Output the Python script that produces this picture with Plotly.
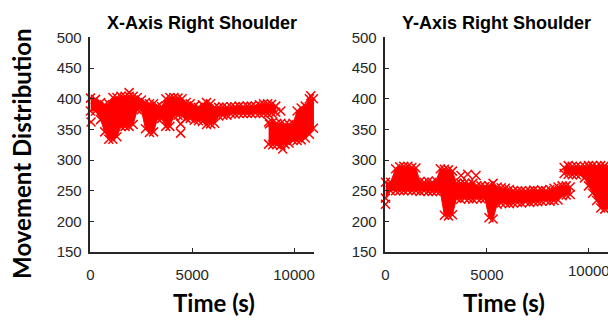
import plotly.graph_objects as go

W, H = 608, 325

# ---------------- data ----------------
# common time grid for the main bands (s)
t_main = [0, 250, 500, 700, 900, 1100, 1300, 1500, 1700, 1900, 2100, 2300, 2500, 2700,
          2900, 3100, 3300, 3500, 3700, 3900, 4100, 4300, 4500, 4700, 4900, 5100, 5300,
          5500, 5700, 5900, 6100, 6300, 6500, 6700, 6900, 7100, 7300, 7500, 7700, 7900,
          8100, 8300, 8500, 8700, 8900, 9100]

# X-axis right shoulder: main band upper / lower values
x_upper = [401, 399, 394, 390, 392, 402, 402, 404, 404, 404, 404, 402, 398, 394, 392, 392,
           388, 387, 400, 402, 402, 401, 400, 394, 392, 388, 386, 390, 394, 392, 386, 386,
           387, 386, 387, 387, 388, 387, 388, 388, 388, 390, 392, 392, 391, 388]
x_lower = [380, 380, 366, 346, 334, 334, 338, 355, 355, 355, 358, 382, 382, 351, 345, 346,
           368, 368, 355, 355, 372, 373, 372, 368, 368, 365, 364, 363, 358, 359, 360, 372,
           373, 373, 375, 375, 376, 376, 376, 376, 377, 376, 376, 376, 377, 378]
# X-axis: late (shifted) block
t_x_late = [8750, 8950, 9150, 9350, 9550, 9750, 9950, 10150, 10350, 10550, 10750, 10950]
x_late_upper = [362, 362, 360, 360, 358, 358, 360, 380, 385, 388, 400, 400]
x_late_lower = [326, 325, 325, 324, 326, 328, 332, 332, 333, 336, 342, 352]
# X-axis: isolated points
t_x_out = [30, 1900, 4430, 4430, 8790, 9350, 9440, 10820]
x_out = [362, 410, 359, 344, 359, 380, 318, 405]

# Y-axis right shoulder: main band upper / lower values
y_upper = [264, 264, 286, 289, 290, 290, 288, 287, 265, 264, 265, 264, 266, 286, 285, 284,
           282, 262, 262, 262, 261, 262, 258, 258, 257, 258, 262, 256, 255, 254, 252, 250,
           250, 250, 249, 250, 251, 250, 251, 250, 252, 254, 256, 258, 258, 256]
y_lower = [238, 250, 250, 250, 250, 251, 250, 250, 249, 250, 249, 249, 249, 249, 210, 209,
           211, 238, 236, 238, 237, 236, 238, 237, 237, 206, 204, 228, 230, 230, 229, 230,
           231, 230, 232, 231, 232, 232, 233, 234, 233, 234, 235, 242, 243, 244]
# Y-axis: late (raised) block
t_y_late = [8800, 9000, 9200, 9400, 9600, 9800, 10000, 10200, 10400, 10600, 10800, 11000]
y_late_upper = [288, 291, 290, 290, 289, 290, 291, 291, 290, 291, 291, 291]
y_late_lower = [278, 277, 276, 276, 276, 271, 258, 246, 234, 222, 220, 220]
# Y-axis: isolated points
t_y_out = [0, 3720, 4050, 4460]
y_out = [228, 275, 277, 275]

titles = ["X-Axis Right Shoulder", "Y-Axis Right Shoulder"]
x_ticks = [0, 5000, 10000]
x_tick_text = ["0", "5000", "10000"]
y_ticks = [150, 200, 250, 300, 350, 400, 450, 500]

RED = "#FF0000"
AXC = "#262626"

fig = go.Figure()


def add_band(t, up, lo, xa, ya):
    fig.add_trace(go.Scatter(
        x=list(t) + list(t)[::-1], y=list(up) + list(lo)[::-1],
        fill="toself", fillcolor=RED, mode="lines",
        line=dict(color=RED, width=1), xaxis=xa, yaxis=ya,
        hoverinfo="skip", showlegend=False))
    fig.add_trace(go.Scatter(
        x=list(t) + list(t), y=list(up) + list(lo), mode="markers",
        marker=dict(symbol="x-thin", size=9, color=RED,
                    line=dict(color=RED, width=1.5)),
        xaxis=xa, yaxis=ya, cliponaxis=False, showlegend=False))


def add_points(t, v, xa, ya):
    fig.add_trace(go.Scatter(
        x=t, y=v, mode="markers",
        marker=dict(symbol="x-thin", size=9, color=RED,
                    line=dict(color=RED, width=1.5)),
        xaxis=xa, yaxis=ya, cliponaxis=False, showlegend=False))


add_band(t_main, x_upper, x_lower, "x", "y")
add_band(t_x_late, x_late_upper, x_late_lower, "x", "y")
add_points(t_x_out, x_out, "x", "y")

add_band(t_main, y_upper, y_lower, "x2", "y2")
add_band(t_y_late, y_late_upper, y_late_lower, "x2", "y2")
add_points(t_y_out, y_out, "x2", "y2")

tickfont = dict(family="Liberation Sans, Arial, sans-serif", size=15, color=AXC)
common_x = dict(tickvals=x_ticks, ticks="inside", ticklen=4,
                tickwidth=1, tickcolor=AXC, showline=True, linecolor=AXC, linewidth=1.5,
                showgrid=False, zeroline=False, tickfont=tickfont, ticklabelstandoff=8)
common_y = dict(tickvals=y_ticks, range=[150, 500], ticks="inside", ticklen=4, tickwidth=1,
                tickcolor=AXC, showline=True, linecolor=AXC, linewidth=1.5, showgrid=False,
                zeroline=False, tickfont=tickfont, ticklabelstandoff=4)

y_dom = [(H - 256.5) / H, (H - 30) / H]

# the right panel's last tick label runs off the page edge; draw it as an annotation
right_tick_text = x_tick_text[:-1] + [""]

fig.update_layout(
    width=W, height=H, margin=dict(l=0, r=0, t=0, b=0),
    paper_bgcolor="white", plot_bgcolor="white", showlegend=False,
    xaxis=dict(domain=[87 / W, 312.5 / W], range=[0, 11000], anchor="y",
               ticktext=x_tick_text, **common_x),
    yaxis=dict(domain=y_dom, anchor="x", **common_y),
    xaxis2=dict(domain=[384 / W, 1.0], range=[0, 10960], anchor="y2",
                ticktext=right_tick_text, **common_x),
    yaxis2=dict(domain=y_dom, anchor="x2", **common_y),
)

fig.add_annotation(text=x_tick_text[-1], x=x_ticks[-1], xref="x2", y=(H - 275.5) / H,
                   yref="paper", showarrow=False, font=tickfont, xanchor="center",
                   yanchor="middle")

title_font = dict(family="Liberation Sans, Arial, sans-serif", size=18, color="black")
label_font = dict(family="Lato, sans-serif", size=24, color="black", weight="bold")

fig.add_annotation(text="<b>" + titles[0] + "</b>", x=199.5 / W, y=(H - 15) / H,
                   xref="paper", yref="paper", showarrow=False, font=title_font,
                   xanchor="center", yanchor="middle")
fig.add_annotation(text="<b>" + titles[1] + "</b>", x=496 / W, y=(H - 15) / H,
                   xref="paper", yref="paper", showarrow=False, font=title_font,
                   xanchor="center", yanchor="middle")
fig.add_annotation(text="Time (s)", x=211.5 / W, y=(H - 310) / H, xref="paper", yref="paper",
                   showarrow=False, font=label_font, xanchor="center", yanchor="middle")
fig.add_annotation(text="Time (s)", x=503 / W, y=(H - 310) / H, xref="paper", yref="paper",
                   showarrow=False, font=label_font, xanchor="center", yanchor="middle")
fig.add_annotation(text="Movement Distribution", x=18 / W, y=(H - 153) / H, xref="paper",
                   yref="paper", showarrow=False, font=label_font, textangle=-90,
                   xanchor="center", yanchor="middle")

fig.write_html("out.html")
